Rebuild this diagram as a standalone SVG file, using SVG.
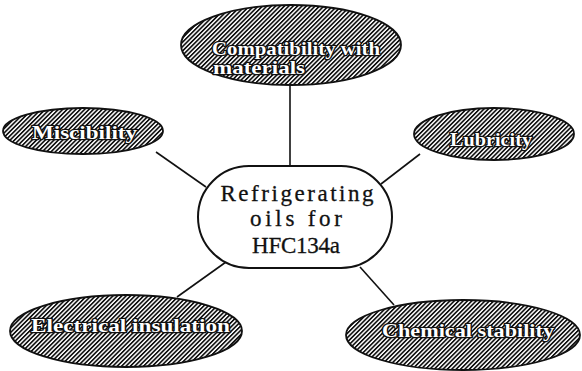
<svg xmlns="http://www.w3.org/2000/svg" width="582" height="371" viewBox="0 0 582 371">
<defs>
<pattern id="hatch" width="3.1" height="10" patternUnits="userSpaceOnUse" patternTransform="rotate(45)">
<rect width="3.1" height="10" fill="#fff"/>
<line x1="0.8" y1="0" x2="0.8" y2="10" stroke="#111" stroke-width="1.7"/>
</pattern>
</defs>
<style>
.oval{fill:url(#hatch);stroke:#111;stroke-width:1.8}
.lbl{font-family:"Liberation Serif","DejaVu Serif",serif;font-weight:bold;font-size:19px;fill:#fff;stroke:#111;stroke-width:2.6;paint-order:stroke;stroke-linejoin:round}
.ctr{font-family:"Liberation Serif","DejaVu Serif",serif;font-size:23px;fill:#111;stroke:#111;stroke-width:0.3;text-anchor:middle}
.conn{stroke:#111;stroke-width:1.6;fill:none}
</style>
<rect width="582" height="371" fill="#fff"/>
<g id="connectors">
<line class="conn" x1="156" y1="152" x2="206" y2="187"/>
<line class="conn" x1="420" y1="154" x2="381" y2="184"/>
<line class="conn" x1="290" y1="85" x2="290" y2="166"/>
<line class="conn" x1="226" y1="262" x2="177" y2="297"/>
<line class="conn" x1="360" y1="267" x2="394" y2="305"/>
</g>
<g id="center">
<rect x="198" y="166" width="194" height="102" rx="51" ry="51" fill="#fff" stroke="#111" stroke-width="2"/>
<text class="ctr" x="297" y="201" textLength="153" lengthAdjust="spacing">Refrigerating</text>
<text class="ctr" x="296" y="226" textLength="92" lengthAdjust="spacing">oils for</text>
<text class="ctr" x="296" y="253" font-size="21" textLength="88" lengthAdjust="spacing">HFC134a</text>
</g>
<g id="compatibility">
<ellipse class="oval" cx="291" cy="45" rx="110" ry="40"/>
<text class="lbl" x="212" y="55" textLength="168" lengthAdjust="spacingAndGlyphs">Compatibility with</text>
<text class="lbl" x="213" y="74" textLength="92" lengthAdjust="spacingAndGlyphs">materials</text>
</g>
<g id="miscibility">
<ellipse class="oval" cx="83" cy="131" rx="80" ry="23"/>
<text class="lbl" x="32" y="139" textLength="105" lengthAdjust="spacingAndGlyphs">Miscibility</text>
</g>
<g id="lubricity">
<ellipse class="oval" cx="494" cy="134" rx="80" ry="26"/>
<text class="lbl" x="450" y="146" textLength="82" lengthAdjust="spacingAndGlyphs">Lubricity</text>
</g>
<g id="electrical">
<ellipse class="oval" cx="126" cy="331" rx="116" ry="36"/>
<text class="lbl" x="31" y="332" textLength="199" lengthAdjust="spacingAndGlyphs">Electrical insulation</text>
</g>
<g id="chemical">
<ellipse class="oval" cx="463" cy="335" rx="117" ry="35"/>
<text class="lbl" x="382" y="337" textLength="172" lengthAdjust="spacingAndGlyphs">Chemical stability</text>
</g>
</svg>
